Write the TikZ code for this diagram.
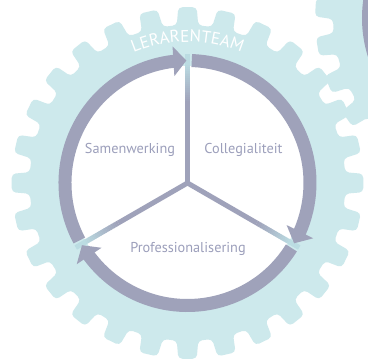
\documentclass[tikz,border=0pt]{standalone}
\usepackage{fontspec}
\setmainfont{PT Sans}
\usetikzlibrary{arrows.meta,bending,decorations.text}
\definecolor{gearc}{HTML}{CDE9EC}
\definecolor{ringc}{HTML}{9FA2BA}
\definecolor{textc}{HTML}{9C9FBB}
\definecolor{spokeend}{HTML}{BBDCE2}
\tikzset{
  gearbody/.style={fill=gearc, rounded corners=4pt},
  ringarrow/.style={draw=ringc, line width=13pt, -{Triangle[length=13pt,width=29pt]}},
  ringline/.style={draw=ringc, line width=13pt},
  seglabel/.style={text=textc, font=\fontsize{14.3}{16}\selectfont, anchor=base, inner sep=0pt},
}
\begin{document}
\begin{tikzpicture}[x=1pt,y=1pt]
\useasboundingbox (0,0) rectangle (368,361);
\clip (0,0) rectangle (368,361);
\fill[white] (0,0) rectangle (368,361);
\coordinate (C) at (187.5,178);
\coordinate (G) at (491,343);
% second gear (top right, partly visible)
\begin{scope}[shift={(G)}]
\fill[gearbody] (170.07:158) \foreach \k in {0,...,27}{
  -- ({176.5+\k*360/28-3.9}:158) -- ({176.5+\k*360/28-3.0}:176)
  -- ({176.5+\k*360/28+3.0}:176) -- ({176.5+\k*360/28+3.9}:158) } -- cycle;
\fill[white] (0,0) circle[radius=117];
\draw[ringline] (0,0) circle[radius=122.5];
\end{scope}
% main gear
\begin{scope}[shift={(C)}]
\fill[gearbody] (96.43:158) \foreach \k in {0,...,27}{
  -- ({90-\k*360/28+3.9}:158) -- ({90-\k*360/28+3.0}:176)
  -- ({90-\k*360/28-3.0}:176) -- ({90-\k*360/28-3.9}:158) } -- cycle;
\fill[white] (0,0) circle[radius=117];
% spokes with fading ends
\foreach \ang in {90,-30,210}{
  \draw[ringc, line width=5pt] (0,0) -- (\ang:80);
  \foreach \i in {0,...,19}{
    \pgfmathsetmacro{\pc}{100-\i*5}
    \draw[color=ringc!\pc!spokeend, line width=5pt] (\ang:{80+\i*1.9}) -- (\ang:{80+(\i+1)*1.9+0.3});
  }
  \draw[spokeend, line width=5pt] (\ang:117.5) -- (\ang:129);
}
\end{scope}
% ring arrows
\draw[ringarrow] ([shift={(C)}]208:122.5) arc[start angle=208, end angle=90.5, radius=122.5];
\draw[ringarrow] ([shift={(C)}]88:122.5) arc[start angle=88, end angle=-29.5, radius=122.5];
\draw[ringarrow] ([shift={(C)}]-32:122.5) arc[start angle=-32, end angle=-149.5, radius=122.5];
% title along the gear
\path[decorate, decoration={text along path, text align=center,
  text={|\fontsize{17}{17}\selectfont\color{white}|LERARENTEAM}}]
  ([shift={(C)}]150:141) arc[start angle=150, end angle=30, radius=141];
% labels
\node[seglabel] (sam) at (130,207) {Samenwerking};
\node[seglabel] (col) at (243.5,207) {Collegialiteit};
\node[seglabel] (pro) at (188,108) {Professionalisering};
\end{tikzpicture}
\end{document}
